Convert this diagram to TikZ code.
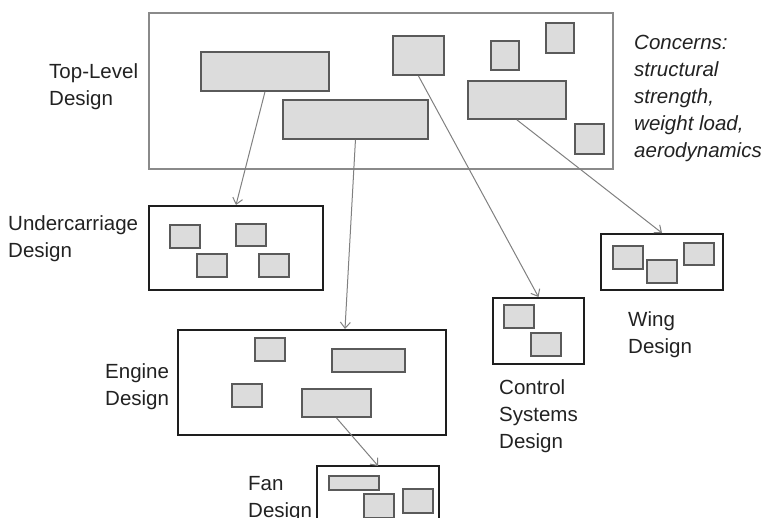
\documentclass[tikz,border=0pt]{standalone}
\usepackage{fontspec}
\setmainfont{Liberation Sans}
\usetikzlibrary{arrows.meta}
\definecolor{innerfill}{HTML}{DCDCDC}
\definecolor{innerdraw}{HTML}{5A5A5A}
\definecolor{topdraw}{HTML}{8A8A8A}
\definecolor{outerdraw}{HTML}{1E1E1E}
\definecolor{linkgray}{HTML}{808080}
\definecolor{txt}{HTML}{222222}
\newcommand\mybox[6]{\node[#1,anchor=north west,minimum width=#5,minimum height=#6] (#2) at (#3,#4) {};}
\begin{document}
\begin{tikzpicture}[x=1pt,y=-1pt,
  ib/.style={draw=innerdraw,fill=innerfill,line width=1.9pt,inner sep=0pt,rectangle},
  tb/.style={draw=topdraw,line width=1.9pt,inner sep=0pt,rectangle},
  ob/.style={draw=outerdraw,line width=2pt,inner sep=0pt,rectangle},
  hidden/.style={inner sep=0pt,rectangle},
  lbl/.style={anchor=north west,inner sep=0pt,align=left,text=txt,font=\fontsize{20.5}{27}\selectfont},
  link/.style={draw=linkgray,line width=1pt,-{Straight Barb[length=6pt,width=10pt,line width=1pt]}}
]
\useasboundingbox (0,0) rectangle (761,518);
% top-level design
\mybox{tb}{top}{148}{12}{464}{156}
\mybox{ib}{ta}{200}{51}{128}{39}
\mybox{ib}{tbx}{282}{99}{145}{39}
\mybox{ib}{tc}{392}{35}{51}{39}
\mybox{ib}{td}{490}{40}{28}{29}
\mybox{ib}{te}{545}{22}{28}{30}
\mybox{ib}{tf}{467}{80}{98}{38}
\mybox{ib}{tg}{574}{123}{29}{30}
% undercarriage
\mybox{ob}{uc}{148}{205}{174}{84}
\mybox{ib}{uca}{169}{224}{30}{23}
\mybox{ib}{ucb}{235}{223}{30}{22}
\mybox{ib}{ucc}{196}{253}{30}{23}
\mybox{ib}{ucd}{258}{253}{30}{23}
% engine
\mybox{ob}{eng}{177}{329}{268}{105}
\mybox{ib}{ea}{254}{337}{30}{23}
\mybox{ib}{eb}{331}{348}{73}{23}
\mybox{ib}{ec}{231}{383}{30}{23}
\mybox{ib}{ed}{301}{388}{69}{28}
% control systems
\mybox{ob}{ctl}{492}{297}{91}{66}
\mybox{ib}{ca}{503}{304}{30}{23}
\mybox{ib}{cb}{530}{332}{30}{23}
% wing
\mybox{ob}{wing}{600}{233}{122}{56}
\mybox{ib}{wa}{612}{245}{30}{23}
\mybox{ib}{wb}{646}{259}{30}{23}
\mybox{ib}{wc}{683}{242}{30}{22}
% fan (cut off at the bottom)
\mybox{hidden}{fan}{317}{466}{122}{60}
\draw[draw=outerdraw,line width=2pt] (fan.south west) -- (fan.north west) -- (fan.north east) -- (fan.south east);
\mybox{ib}{fa}{328}{475}{50}{14}
\mybox{ib}{fb}{363}{493}{30}{24}
\mybox{ib}{fc}{402}{488}{30}{24}
% labels
\node[lbl] (ltop) at (49,63) {Top-Level\\Design};
\node[lbl,font=\fontsize{20.5}{27}\selectfont\itshape] (lconc) at (634,35) {Concerns:\\structural\\strength,\\weight load,\\aerodynamics};
\node[lbl] (luc) at (8,215) {Undercarriage\\Design};
\node[lbl] (leng) at (105,363) {Engine\\Design};
\node[lbl] (lfan) at (248,476) {Fan\\Design};
\node[lbl] (lctl) at (499,379) {Control\\Systems\\Design};
\node[lbl] (lwing) at (628,311) {Wing\\Design};
% links
\draw[link] (ta.south) -- ([xshift=88pt]uc.north west);
\draw[link] (tbx.south) -- ([xshift=168pt]eng.north west);
\draw[link] (tc.south) -- (ctl.north);
\draw[link] (tf.south) -- (wing.north);
\draw[link] (ed.south) -- (fan.north);
\end{tikzpicture}
\end{document}
